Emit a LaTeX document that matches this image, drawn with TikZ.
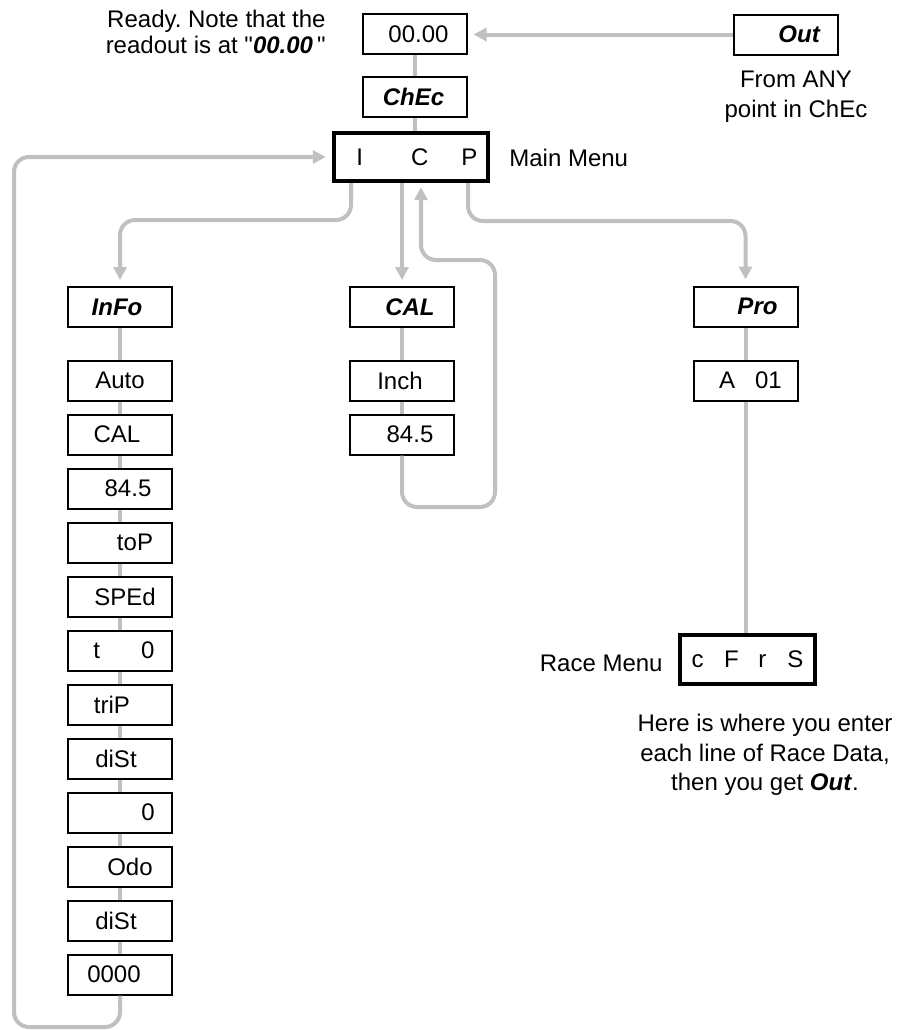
\documentclass[tikz,border=0pt]{standalone}
\usepackage{fontspec}
\setmainfont{Liberation Sans}
\newfontfamily\qfont{Liberation Sans}[Ligatures=TeXOff]
\usetikzlibrary{arrows.meta}
\definecolor{lg}{RGB}{192,192,192}
\frenchspacing
\begin{document}
\begin{tikzpicture}[x=0.5pt,y=-0.5pt,
  every node/.style={font=\fontsize{12}{14.4}\selectfont},
  box/.style={draw,line width=1pt,minimum width=52pt,minimum height=20pt,inner sep=0pt,text width=52pt,align=center},
  bigbox/.style={draw,line width=2.2pt,inner sep=0pt},
  txt/.style={inner sep=0pt},
  conn/.style={draw=lg,line width=2pt},
  arr/.style={conn,-{Triangle[length=6.5pt,width=6.5pt]},shorten >=3pt},
  rc/.style={rounded corners=7.5pt}
]
\useasboundingbox (0,0) rectangle (902,1030);

% top
\node[box] (v0) at (414.5,34) {\hspace*{4pt}00.00};
\node[box] (out) at (785.5,34.5) {\hspace*{14pt}\textbf{\textit{Out}}};
\node[box] (chec) at (414.5,96.5) {\hspace*{-1pt}\textbf{\textit{ChEc}}};
\node[bigbox,minimum width=77pt,minimum height=24pt] (main) at (411,157) {\hspace*{6pt}I\hspace{24pt}C\hspace{16.5pt}P};

% columns heads
\node[box] (info) at (120,307) {\hspace*{-3pt}\textbf{\textit{InFo}}};
\node[box] (cal) at (402,307) {\hspace*{8pt}\textbf{\textit{CAL}}};
\node[box] (pro) at (745.5,306.5) {\hspace*{12pt}\textbf{\textit{Pro}}};

% InFo column
\node[box] (i1) at (120,380.5) {Auto};
\node[box] (i2) at (120,434.5) {\hspace*{-3pt}CAL};
\node[box] (i3) at (120,488.5) {\hspace*{8pt}84.5};
\node[box] (i4) at (120,542.5) {\hspace*{15pt}toP};
\node[box] (i5) at (120,596.5) {\hspace*{5pt}SPEd};
\node[box] (i6) at (120,650.5) {\hspace*{4pt}t\hspace{20.5pt}0};
\node[box] (i7) at (120,704.5) {\hspace*{-8pt}triP};
\node[box] (i8) at (120,758.5) {\hspace*{-4pt}diSt};
\node[box] (i9) at (120,812.5) {\hspace*{28pt}0};
\node[box] (i10) at (120,866.5) {\hspace*{10pt}Odo};
\node[box] (i11) at (120,920.5) {\hspace*{-4pt}diSt};
\node[box] (i12) at (120,974.5) {\hspace*{-6pt}0000};

% CAL column
\node[box] (inch) at (402,380.5) {\hspace*{-2pt}Inch};
\node[box] (cal84) at (402,434.5) {\hspace*{8pt}84.5};

% Pro column
\node[box] (a01) at (745.5,380.5) {\hspace*{5pt}A\hspace{10pt}01};
\node[bigbox,minimum width=67.5pt,minimum height=24.5pt] (race) at (747.5,659.5) {c\hspace{10.3pt}F\hspace{9.8pt}r\hspace{10.5pt}S};

% texts
\node[txt,anchor=east,align=right,font=\fontsize{12}{13}\selectfont] (ready) at (326,32) {Ready. Note that the\\readout is at {\qfont"}\textbf{\textit{00.00}}\,{\qfont"}};
\node[txt,align=center,font=\fontsize{12}{15}\selectfont] (from) at (796,97) {From ANY\\point in ChEc};
\node[txt,anchor=west] (mm) at (509,158) {Main Menu};
\node[txt,anchor=east] (rm) at (663,663) {Race Menu};
\node[txt,align=center,font=\fontsize{12}{14.75}\selectfont] (note) at (765,755) {Here is where you enter\\each line of Race Data,\\then you get \textbf{\textit{Out}}.};

% coordinates
\coordinate (jI) at (351,220);
\coordinate (jP) at (468,221);
\coordinate (rA) at (495,507);
\coordinate (rB) at (421,260);
\coordinate (lA) at (14,1027);

% connectors
\draw[arr] (out.west) -- (out.west -| v0.east);
\draw[conn] (v0.south) -- (chec.north);
\draw[conn] (chec.south) -- (chec.south |- main.north);
\draw[arr,rc] (main.south -| jI) -- (jI) -| (info.north);
\draw[arr] (main.south -| cal.north) -- (cal.north);
\draw[arr,rc,shorten >=2pt] (cal84.south) |- (rA) |- (rB) -- (rB |- main.south);
\draw[arr,rc] (main.south -| jP) -- (jP) -| (pro.north);
\draw[conn] (pro.south) -- (a01.north);
\draw[conn] (a01.south) -- (a01.south |- race.north);
\draw[conn] (cal.south) -- (inch.north);
\draw[conn] (inch.south) -- (cal84.north);
\draw[conn] (info.south) -- (i1.north);
\foreach \a/\b in {i1/i2,i2/i3,i3/i4,i4/i5,i5/i6,i6/i7,i7/i8,i8/i9,i9/i10,i10/i11,i11/i12}
  \draw[conn] (\a.south) -- (\b.north);
\draw[arr,rc] (i12.south) |- (lA) |- (main.west);
\end{tikzpicture}
\end{document}
